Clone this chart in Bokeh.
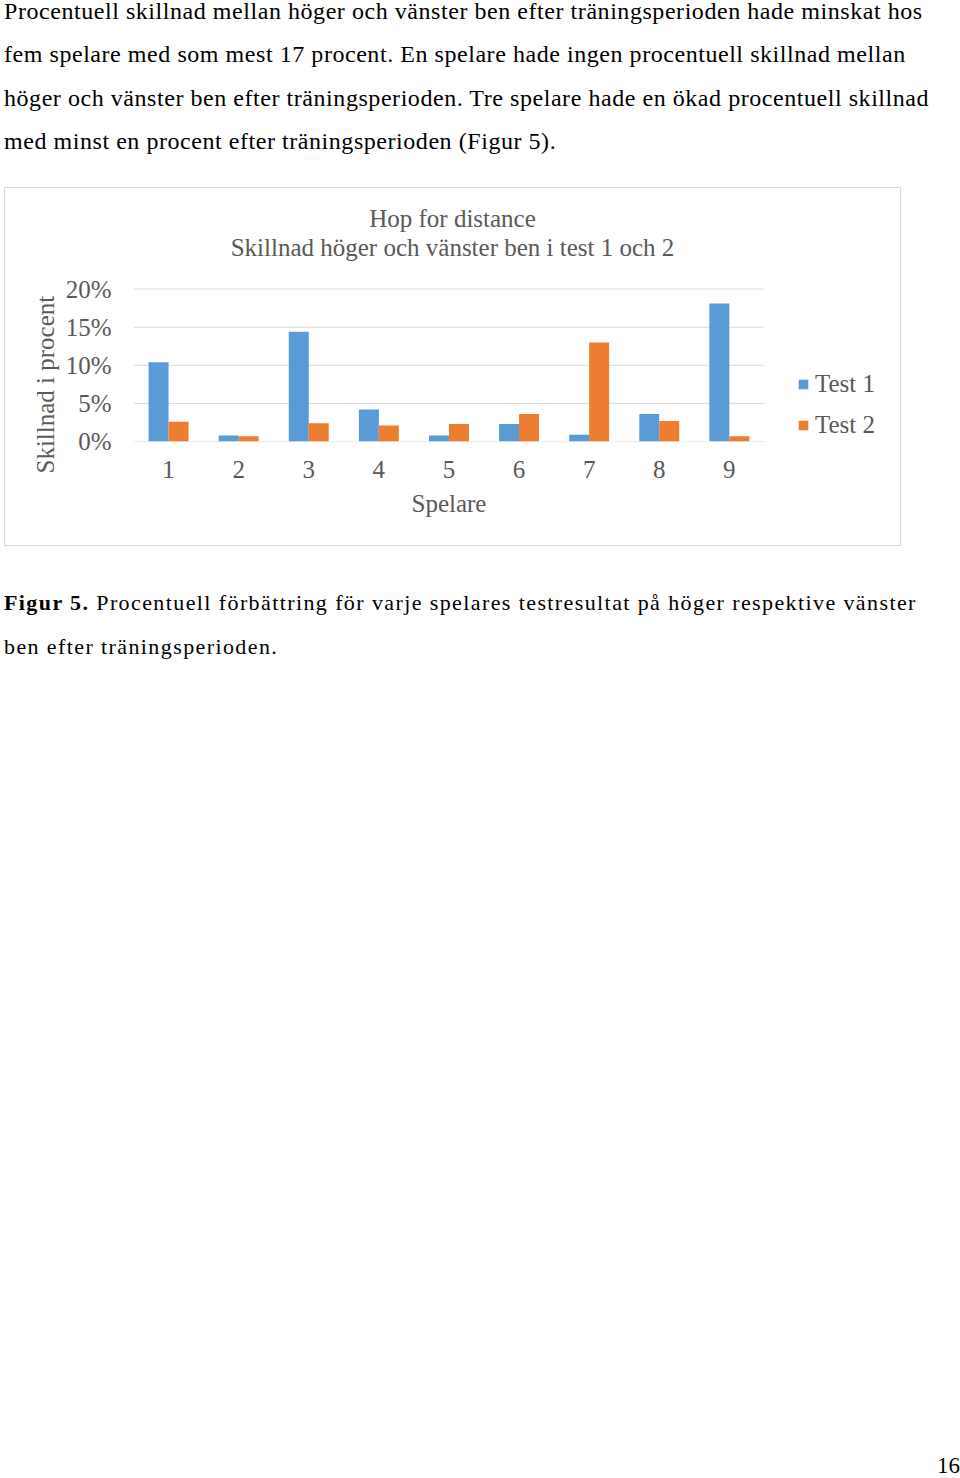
from bokeh.plotting import figure
from bokeh.models import (Range1d, FixedTicker, NumeralTickFormatter,
                          Div, Title, Label, Legend, LegendItem, ColumnDataSource)
from bokeh.layouts import column
from bokeh.transform import dodge
from bokeh.embed import file_html
from bokeh.resources import INLINE

# ---------------- data ----------------
players = [1, 2, 3, 4, 5, 6, 7, 8, 9]
test1 = [0.104, 0.008, 0.144, 0.042, 0.008, 0.023, 0.009, 0.036, 0.181]
test2 = [0.026, 0.007, 0.024, 0.021, 0.023, 0.036, 0.130, 0.027, 0.007]
y_ticks = [0.0, 0.05, 0.10, 0.15, 0.20]

title1 = "Hop for distance"
title2 = "Skillnad höger och vänster ben i test 1 och 2"
x_label = "Spelare"
y_label = "Skillnad i procent"

paragraph = [
    "Procentuell skillnad mellan höger och vänster ben efter träningsperioden hade minskat hos",
    "fem spelare med som mest 17 procent. En spelare hade ingen procentuell skillnad mellan",
    "höger och vänster ben efter träningsperioden. Tre spelare hade en ökad procentuell skillnad",
    "med minst en procent efter träningsperioden (Figur 5).",
]
caption_bold = "Figur 5."
caption_rest = [
    " Procentuell förbättring för varje spelares testresultat på höger respektive vänster",
    "ben efter träningsperioden.",
]
page_number = "16"

FONT = "Liberation Serif"
GREY = "#595959"
GRID = "#d9d9d9"
BLUE = "#5B9BD5"
ORANGE = "#ED7D31"

# ---------------- top paragraph ----------------
top_html = (
    f"<div style=\"font-family:'{FONT}', serif;font-size:24px;line-height:43.4px;color:#000;"
    "padding-left:4px;position:relative;top:-10px;letter-spacing:0.55px;white-space:nowrap;\">"
    + "<br>".join(paragraph) + "</div>"
)
div_top = Div(text=top_html, width=960, height=187, margin=(0, 0, 0, 0))

# ---------------- chart ----------------
src = ColumnDataSource(dict(players=players, test1=test1, test2=test2))

# the frame covers the whole chart area right of the y axis, so that the
# titles and the legend can live inside it
x_lo = 0.5
x_hi = 0.5 + 767 / 70.1
y_hi = 253 / 762.0

p = figure(width=895, height=357,
           x_range=Range1d(x_lo, x_hi),
           y_range=Range1d(0, y_hi),
           output_backend="svg", toolbar_location=None,
           min_border_left=128, min_border_right=0,
           min_border_top=0, min_border_bottom=104,
           margin=(1, 0, 1, 5),
           styles={"outline": f"1px solid {GRID}"})
p.outline_line_color = None
p.background_fill_color = "white"
p.border_fill_color = "white"
p.xgrid.grid_line_color = None
p.ygrid.grid_line_color = None

# horizontal gridlines restricted to the plot area of the players
p.segment(x0=[x_lo] * len(y_ticks), x1=[len(players) + 0.5] * len(y_ticks),
          y0=y_ticks, y1=y_ticks, line_color=GRID, line_width=1)

r1 = p.vbar(x=dodge("players", -0.1425), top="test1", width=0.285,
            source=src, color=BLUE, line_color=None)
r2 = p.vbar(x=dodge("players", 0.1425), top="test2", width=0.285,
            source=src, color=ORANGE, line_color=None)

p.xaxis.ticker = FixedTicker(ticks=players)
p.yaxis.ticker = FixedTicker(ticks=y_ticks)
p.yaxis.formatter = NumeralTickFormatter(format="0%")
for ax in (p.xaxis[0], p.yaxis[0]):
    ax.axis_line_color = None
    ax.major_tick_line_color = None
    ax.minor_tick_line_color = None
    ax.major_tick_out = 0
    ax.major_tick_in = 0
    ax.major_label_text_font = FONT
    ax.major_label_text_font_size = "25px"
    ax.major_label_text_color = GREY
p.yaxis.major_label_standoff = 22
p.xaxis.major_label_standoff = 19

# axis titles as side titles so they can be placed along the axes
p.add_layout(Title(text=y_label, align="left", offset=-32, standoff=8,
                   text_font=FONT, text_font_size="25px", text_font_style="normal",
                   text_color=GREY), "left")
p.add_layout(Title(text=x_label, align="left", offset=278, standoff=15,
                   text_font=FONT, text_font_size="25px", text_font_style="normal",
                   text_color=GREY), "below")

# chart titles inside the frame
tx = x_lo + (452 - 133) / 70.1
for txt, ty in ((title1, (440.7 - 218) / 762.0), (title2, (440.7 - 247) / 762.0)):
    p.add_layout(Label(x=tx, y=ty, text=txt, text_align="center", text_baseline="middle",
                       text_font=FONT, text_font_size="25px", text_color=GREY))

legend = Legend(items=[LegendItem(label="Test 1", renderers=[r1]),
                       LegendItem(label="Test 2", renderers=[r2])],
                location=(664, 2), orientation="vertical",
                glyph_width=12, glyph_height=12, label_height=25, spacing=13,
                label_standoff=6, padding=0, margin=0,
                label_text_font=FONT, label_text_font_size="25px", label_text_color=GREY,
                border_line_color=None, background_fill_alpha=0)
p.add_layout(legend, "center")

# ---------------- caption + page number ----------------
cap_html = (
    f"<div style=\"position:relative;width:960px;height:932px;font-family:'{FONT}', serif;color:#000;\">"
    "<div style=\"position:absolute;left:4px;top:35px;font-size:22px;line-height:44px;"
    "letter-spacing:1.4px;white-space:nowrap;\">"
    f"<b>{caption_bold}</b>{caption_rest[0]}<br>{caption_rest[1]}</div>"
    "<div style=\"position:absolute;right:0px;top:906px;font-size:23px;line-height:28px;\">"
    f"{page_number}</div></div>"
)
div_cap = Div(text=cap_html, width=960, height=932, margin=(0, 0, 0, 0))

layout = column(div_top, p, div_cap, spacing=0)
open("out.html", "w").write(file_html(layout, INLINE))
